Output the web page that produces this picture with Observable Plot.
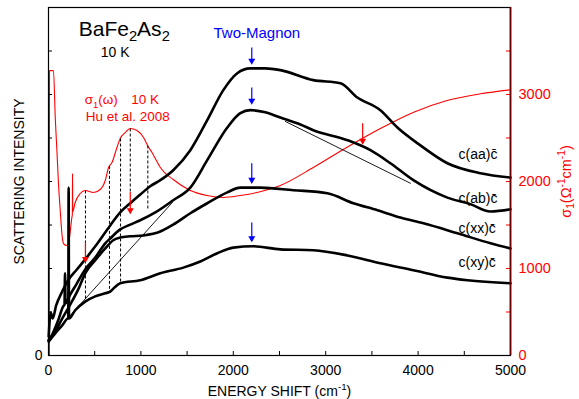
<!DOCTYPE html>
<html><head><meta charset="utf-8">
<script src="https://cdn.jsdelivr.net/npm/d3@7"></script>
<script src="https://cdn.jsdelivr.net/npm/@observablehq/plot@0.6"></script>
<style>body{margin:0;background:#fff}</style>
</head><body><div id="chart"></div>
<script>
// ---- data (energy shift in cm^-1, intensity in arbitrary units 0–800) ----
const aaX = [2,24,45,83,148,213,300,397,506,668,776,885,993,1101,1210,1350,1535,1718,1892,2043,2184,2346,2509,2866,3159,3343,3592,3776,4025,4317,4675,5000];
const aaY = [44,99,85,115,147,173,196,221,251,299,329,350,370,389,403,426,472,541,610,649,660,660,656,633,626,593,564,524,483,442,419,409];

const abX = [2,40,105,159,173,179,184,235,300,397,506,614,668,776,885,993,1156,1350,1535,1718,1935,2076,2184,2346,2509,2726,2866,3235,3484,3700,3949,4317,4566,4782,5000];
const abY = [35,48,81,113,117,189,120,140,163,198,225,258,269,290,301,311,329,357,386,449,524,557,564,559,547,531,518,495,472,442,403,363,348,331,336];

const xxX = [2,73,148,235,322,397,506,614,701,776,885,1026,1210,1350,1535,1718,1935,2076,2293,2650,3018,3300,3560,3809,4058,4426,4784,5000];
const xxY = [35,55,85,117,152,189,219,246,265,271,274,276,285,301,327,350,375,386,386,380,373,350,334,317,304,281,258,246];

const xyX = [2,73,148,211,214,218,222,289,397,506,614,668,712,776,993,1210,1459,1643,1827,2000,2217,2509,2866,3235,3592,3949,4317,4534,5000];
const xyY = [32,51,69,85,85,386,85,104,124,136,143,147,156,166,173,189,202,216,235,248,251,244,242,230,212,196,179,173,166];

// optical conductivity sigma1 (Ohm^-1 cm^-1), Hu et al. 2008
const sigX = [10,11,54,73,91,108,127,145,162,199,227,253,258,260,262,289,343,397,487,560,614,650,687,741,776,830,885,957,1029,1072,1120,1156,1210,1350,1535,1715,1892,2076,2257,2509,2870,3231,3592,3953,4314,4675,5000];
const sigY = [0,3275,3275,2736,2356,1977,1667,1402,1287,1264,1356,1586,1620,2090,1650,1759,1862,1897,1874,1908,2011,2161,2218,2391,2494,2563,2609,2586,2506,2414,2333,2264,2161,2023,1897,1839,1816,1839,1874,1954,2164,2394,2609,2797,2931,3008,3054];

// straight guide lines (intensity units)
const guide1X = [18,1341], guide1Y = [41,352];
const guide2X = [2563,3917], guide2Y = [538,396];

// dashed drop lines (sigma units)
const dropX = [400,660,780,885,1075];
const dropTop = [1897,2180,2494,2609,2414];
const dropBottom = [632,736,828,1874,1667];

// arrows
const redArrowX = [400,885,3400];          // sigma units
const redArrowFrom = [1300,1880,2670];
const redArrowTo = [1080,1640,2440];
const blueArrowX = [2200,2200,2200,2200];   // intensity units
const blueArrowFrom = [708,616,442,306];
const blueArrowTo = [672,580,398,264];

// tick labels
const xMajor = [0,1000,2000,3000,4000,5000];
const xMinor = [500,1000,1500,2000,2500,3000,3500,4000,4500];
const yLeftTicks = [100,200,300,400,500,600,700];
const sigMajor = [0,1000,2000,3000];
const sigMinor = [500,1000,1500,2000,2500,3000,3500];

// text labels
const seriesNames = ["c(aa)c\u0304","c(ab)c\u0304","c(xx)c\u0304","c(xy)c\u0304"];
const seriesLabelX = [4437,4437,4437,4437];
const seriesLabelY = [463,360,291,213];

const K = 800/4000; // sigma -> intensity-axis units

const rows = (xs, ys, extra={}) => xs.map((x,i)=>({x, y: ys[i], ...extra}));
const spectra = [
  ...rows(aaX, aaY, {s:"aa"}), ...rows(abX, abY, {s:"ab"}),
  ...rows(xxX, xxY, {s:"xx"}), ...rows(xyX, xyY, {s:"xy"})
];
const sigma = rows(sigX, sigY.map(v=>v*K));
const guides = [...rows(guide1X, guide1Y, {g:1}), ...rows(guide2X, guide2Y, {g:2})];
const drops = dropX.map((x,i)=>({x, y1: dropTop[i]*K, y2: dropBottom[i]*K}));
const redArrows = redArrowX.map((x,i)=>({x, y1: redArrowFrom[i]*K, y2: redArrowTo[i]*K}));
const blueArrows = blueArrowX.map((x,i)=>({x, y1: blueArrowFrom[i], y2: blueArrowTo[i]}));
const seriesLabels = seriesNames.map((t,i)=>({t, x: seriesLabelX[i], y: seriesLabelY[i]}));

const FONT = "'Liberation Sans', Arial, sans-serif";
const W = 579, H = 399, ML = 48, MR = 69, MT = 7, MB = 44;
const FW = W - ML - MR, FH = H - MT - MB, TICK = 4;

const chart = Plot.plot({
  width: W, height: H,
  marginLeft: ML, marginRight: MR, marginTop: MT, marginBottom: MB,
  x: {domain: [0,5000]},
  y: {domain: [0,800]},
  style: {fontFamily: FONT, background: "white", color: "black"},
  marks: [
    Plot.line(sigma, {x:"x", y:"y", stroke:"#ff0000", strokeWidth:1.1, curve:"monotone-x"}),
    Plot.link(drops, {x1:"x", x2:"x", y1:"y1", y2:"y2", stroke:"black", strokeWidth:1, strokeDasharray:"3,2"}),
    Plot.line(guides, {x:"x", y:"y", z:"g", stroke:"black", strokeWidth:0.9}),
    Plot.line(spectra, {x:"x", y:"y", z:"s", stroke:"black", strokeWidth:2.6, curve:"monotone-x"}),
    Plot.link(redArrows, {x1:"x", x2:"x", y1:"y1", y2:"y2", stroke:"#ff0000", strokeWidth:1.2}),
    Plot.dot(redArrows, {x:"x", y:"y2", symbol:"triangle", r:2.6, rotate:180, fill:"#ff0000", dy:-2.5}),
    Plot.link(blueArrows, {x1:"x", x2:"x", y1:"y1", y2:"y2", stroke:"#0000ff", strokeWidth:1.2}),
    Plot.dot(blueArrows, {x:"x", y:"y2", symbol:"triangle", r:2.6, rotate:180, fill:"#0000ff", dy:-2.5}),
    Plot.text([{t:"BaFe_{2}As_{2}", x:820, y:751}], {x:"x", y:"y", text:"t", fontSize:21, lineAnchor:"middle"}),
    Plot.text([{t:"10 K", x:722, y:696}], {x:"x", y:"y", text:"t", fontSize:14, lineAnchor:"middle"}),
    Plot.text([{t:"Two-Magnon", x:2255, y:740}], {x:"x", y:"y", text:"t", fontSize:15, fill:"#0000ff", lineAnchor:"middle"}),
    Plot.text([{t:"σ_{1}(ω)", x:571, y:587},{t:"10 K", x:1047, y:587},{t:"Hu et al. 2008", x:858, y:549}],
      {x:"x", y:"y", text:"t", fontSize:13.5, fill:"#ff0000", lineAnchor:"middle"}),
    Plot.text(seriesLabels, {x:"x", y:"y", text:"t", fontSize:14, textAnchor:"start", lineAnchor:"middle"}),
    // inward ticks
    Plot.tickX(xMinor, {x:d=>d, stroke:"black", insetTop: FH - TICK}),
    Plot.tickY(yLeftTicks, {y:d=>d, stroke:"black", insetRight: FW - TICK}),
    Plot.tickY(sigMinor.map(v=>v*K), {y:d=>d, stroke:"#ff0000", insetLeft: FW - TICK}),
    Plot.frame({stroke:"black", strokeWidth:1.2}),
    Plot.ruleX([5000], {stroke:"#6b0000", strokeWidth:1.8}),
    Plot.axisX({ticks:xMajor, tickFormat:d=>String(d), tickSize:0, tickPadding:10, fontSize:14, label:"ENERGY SHIFT (cm^{-1})", labelAnchor:"center", labelArrow:false, labelOffset:40}),
    Plot.axisY({ticks:[0], tickFormat:d=>String(d), tickSize:0, tickPadding:6, fontSize:14, label:"SCATTERING INTENSITY", labelAnchor:"center", labelArrow:false, labelOffset:34}),
    Plot.axisY({anchor:"right", ticks:sigMajor.map(v=>v*K), tickFormat:d=>String(Math.round(d/K)), tickSize:0, tickPadding:8, fontSize:14.5, color:"#ff0000", label:"σ_{1}(Ω^{-1}cm^{-1})", labelAnchor:"center", labelArrow:false, labelOffset:60})
  ]
});
document.getElementById("chart").appendChild(chart);

// rich text: _{sub} and ^{sup}
function rich(root){
  const NS = "http://www.w3.org/2000/svg";
  root.querySelectorAll("text, tspan").forEach(el=>{
    if (el.children.length) return;
    const s = el.textContent;
    if (!/[_^]\{/.test(s)) return;
    const fs = parseFloat(getComputedStyle(el).fontSize) || 14;
    el.textContent = "";
    const re = /([_^])\{([^}]*)\}|[^_^]+/g; let m, pending = 0;
    while ((m = re.exec(s))) {
      const ts = document.createElementNS(NS, "tspan");
      if (m[1]) {
        const d = m[1] === "_" ? fs*0.25 : -fs*0.38;
        ts.setAttribute("dy", d + pending);
        pending = -d;
        ts.setAttribute("font-size", fs*0.7);
        ts.textContent = m[2];
      } else {
        if (pending) ts.setAttribute("dy", pending);
        pending = 0;
        ts.textContent = m[0];
      }
      el.appendChild(ts);
    }
  });
}
rich(chart);
</script>
</body></html>
